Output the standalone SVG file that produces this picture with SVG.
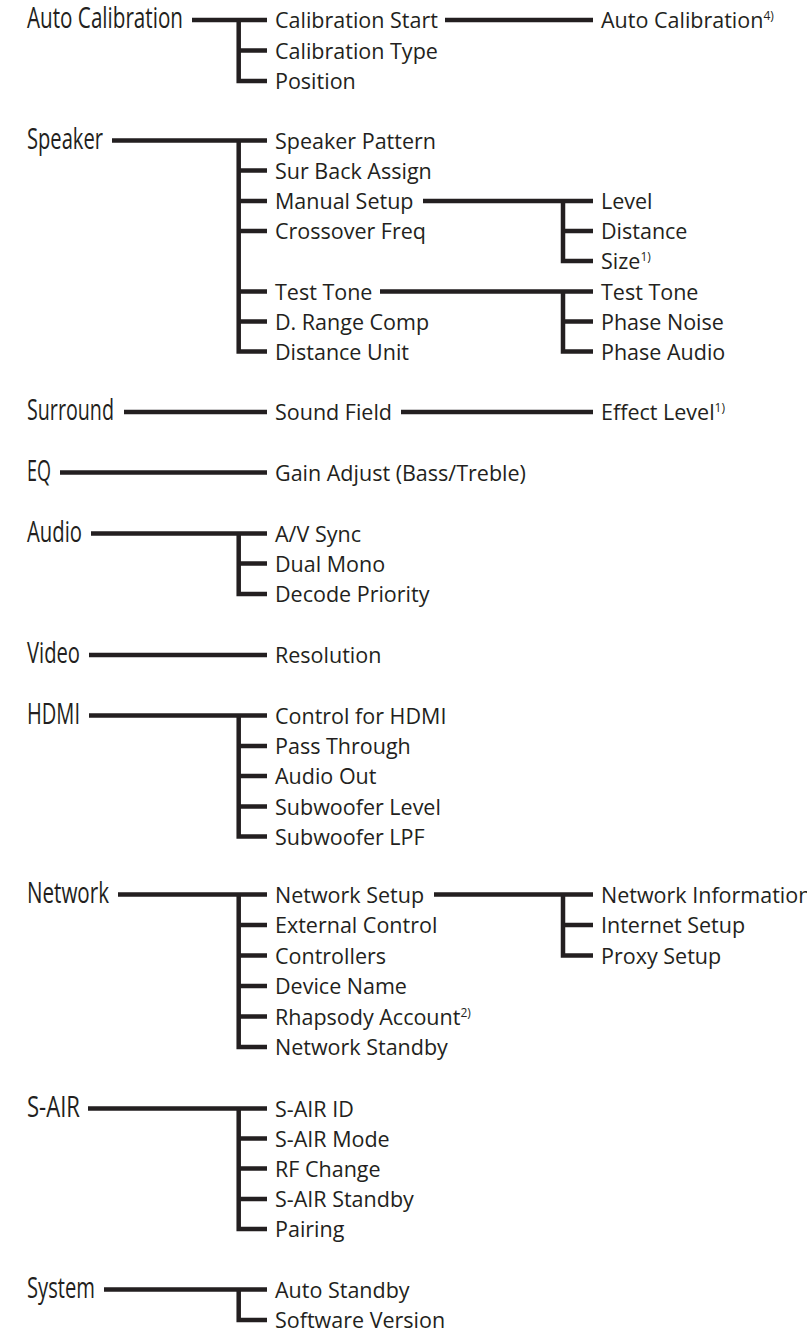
<svg xmlns="http://www.w3.org/2000/svg" width="807" height="1334" viewBox="0 0 807 1334">
<style>
text{font-family:"Open Sans","Liberation Sans",sans-serif;fill:#231f20}
.m{font-size:28.5px}
.s{font-size:21.5px}
.sup{font-size:12px}
.c{stroke:#231f20;stroke-width:4.5;fill:none;stroke-linecap:butt}
</style>
<rect width="807" height="1334" fill="#fff"/>
<g id="connectors">
<path class="c" d="M192 20H267M238.7 17.75V83.25M238.7 50.5H267M238.7 81H267M445 20H593"/>
<path class="c" d="M112 140.5H267M238.7 138.25V353.75M238.7 170.5H267M238.7 201H267M238.7 231H267M238.7 291.5H267M238.7 321.5H267M238.7 351.5H267"/>
<path class="c" d="M423 201H593M563 198.75V263.25M563 231H593M563 261H593"/>
<path class="c" d="M380 291.5H593M563 289.25V353.75M563 321.5H593M563 351.5H593"/>
<path class="c" d="M124 412H267M401 412H593"/>
<path class="c" d="M60 472.5H267"/>
<path class="c" d="M91 533.5H267M238.7 531.25V596.25M238.7 563.5H267M238.7 594H267"/>
<path class="c" d="M89 655H267"/>
<path class="c" d="M89 715.5H267M238.7 713.25V838.75M238.7 746H267M238.7 776H267M238.7 806.5H267M238.7 836.5H267"/>
<path class="c" d="M118 894.5H267M238.7 892.25V1049.25M238.7 925H267M238.7 955.5H267M238.7 986H267M238.7 1016.5H267M238.7 1047H267"/>
<path class="c" d="M434 894.5H593M563 892.25V957.75M563 925H593M563 955.5H593"/>
<path class="c" d="M88 1108.5H267M238.7 1106.25V1231.25M238.7 1138.5H267M238.7 1168.5H267M238.7 1199H267M238.7 1229H267"/>
<path class="c" d="M104 1289.5H267M238.7 1287.25V1322.25M238.7 1320H267"/>
</g>
<g id="auto-calibration">
<text class="m" x="27" y="28" textLength="156" lengthAdjust="spacingAndGlyphs">Auto Calibration</text>
<text class="s" x="275" y="28">Calibration Start</text>
<text class="s" x="275" y="58.5">Calibration Type</text>
<text class="s" x="275" y="89">Position</text>
<text class="s" x="601" y="28">Auto Calibration<tspan class="sup" dy="-8">4)</tspan></text>
</g>
<g id="speaker">
<text class="m" x="27" y="148.5" textLength="76" lengthAdjust="spacingAndGlyphs">Speaker</text>
<text class="s" x="275" y="148.5">Speaker Pattern</text>
<text class="s" x="275" y="178.5">Sur Back Assign</text>
<text class="s" x="275" y="209">Manual Setup</text>
<text class="s" x="275" y="239">Crossover Freq</text>
<text class="s" x="275" y="299.5">Test Tone</text>
<text class="s" x="275" y="329.5">D. Range Comp</text>
<text class="s" x="275" y="359.5">Distance Unit</text>
<text class="s" x="601" y="209">Level</text>
<text class="s" x="601" y="239">Distance</text>
<text class="s" x="601" y="269">Size<tspan class="sup" dy="-8">1)</tspan></text>
<text class="s" x="601" y="299.5">Test Tone</text>
<text class="s" x="601" y="329.5">Phase Noise</text>
<text class="s" x="601" y="359.5">Phase Audio</text>
</g>
<g id="surround">
<text class="m" x="27" y="420" textLength="87" lengthAdjust="spacingAndGlyphs">Surround</text>
<text class="s" x="275" y="420">Sound Field</text>
<text class="s" x="601" y="420">Effect Level<tspan class="sup" dy="-8">1)</tspan></text>
</g>
<g id="eq">
<text class="m" x="27" y="480.5" textLength="24" lengthAdjust="spacingAndGlyphs">EQ</text>
<text class="s" x="275" y="480.5">Gain Adjust (Bass/Treble)</text>
</g>
<g id="audio">
<text class="m" x="27" y="541.5" textLength="55" lengthAdjust="spacingAndGlyphs">Audio</text>
<text class="s" x="275" y="541.5">A/V Sync</text>
<text class="s" x="275" y="571.5">Dual Mono</text>
<text class="s" x="275" y="602">Decode Priority</text>
</g>
<g id="video">
<text class="m" x="27" y="663" textLength="53" lengthAdjust="spacingAndGlyphs">Video</text>
<text class="s" x="275" y="663">Resolution</text>
</g>
<g id="hdmi">
<text class="m" x="27" y="723.5" textLength="53" lengthAdjust="spacingAndGlyphs">HDMI</text>
<text class="s" x="275" y="723.5">Control for HDMI</text>
<text class="s" x="275" y="754">Pass Through</text>
<text class="s" x="275" y="784">Audio Out</text>
<text class="s" x="275" y="814.5">Subwoofer Level</text>
<text class="s" x="275" y="844.5">Subwoofer LPF</text>
</g>
<g id="network">
<text class="m" x="27" y="902.5" textLength="82" lengthAdjust="spacingAndGlyphs">Network</text>
<text class="s" x="275" y="902.5">Network Setup</text>
<text class="s" x="275" y="933">External Control</text>
<text class="s" x="275" y="963.5">Controllers</text>
<text class="s" x="275" y="994">Device Name</text>
<text class="s" x="275" y="1024.5">Rhapsody Account<tspan class="sup" dy="-8">2)</tspan></text>
<text class="s" x="275" y="1055">Network Standby</text>
<text class="s" x="601" y="902.5">Network Information</text>
<text class="s" x="601" y="933">Internet Setup</text>
<text class="s" x="601" y="963.5">Proxy Setup</text>
</g>
<g id="s-air">
<text class="m" x="27" y="1116.5" textLength="53" lengthAdjust="spacingAndGlyphs">S-AIR</text>
<text class="s" x="275" y="1116.5">S-AIR ID</text>
<text class="s" x="275" y="1146.5">S-AIR Mode</text>
<text class="s" x="275" y="1176.5">RF Change</text>
<text class="s" x="275" y="1207">S-AIR Standby</text>
<text class="s" x="275" y="1237">Pairing</text>
</g>
<g id="system">
<text class="m" x="27" y="1297.5" textLength="68" lengthAdjust="spacingAndGlyphs">System</text>
<text class="s" x="275" y="1297.5">Auto Standby</text>
<text class="s" x="275" y="1328">Software Version</text>
</g>
</svg>
